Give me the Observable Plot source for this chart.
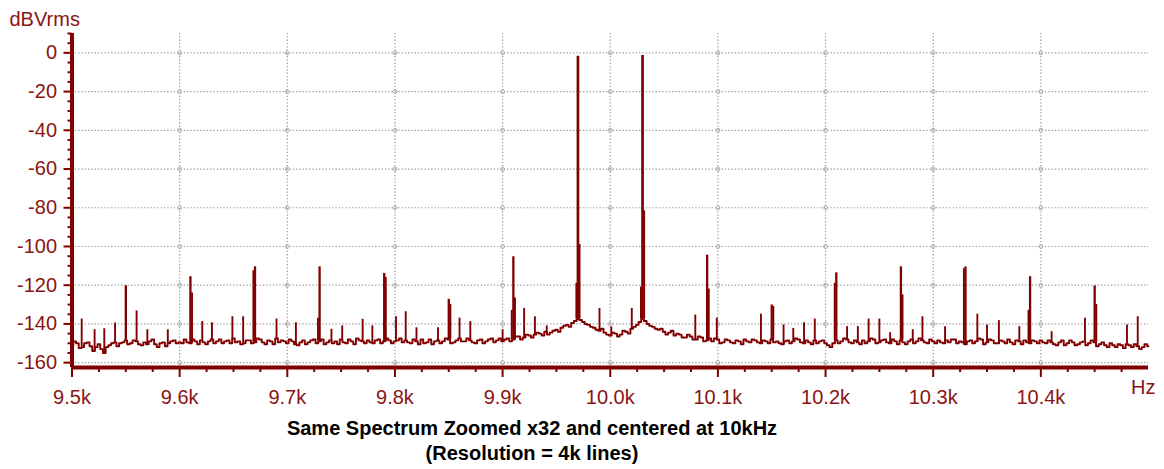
<!DOCTYPE html>
<html><head><meta charset="utf-8">
<script src="https://cdn.jsdelivr.net/npm/d3@7"></script>
<script src="https://cdn.jsdelivr.net/npm/@observablehq/plot@0.6"></script>
<style>
body{margin:0;background:#fff;}
#chart svg{display:block;max-width:none;}
#caption{width:1064px;text-align:center;font-family:"Liberation Sans",Arial,sans-serif;font-weight:bold;font-size:20px;line-height:25px;color:#000;margin-top:3.5px;}
</style></head><body>
<div id="chart"></div>
<div id="caption"><div>Same Spectrum Zoomed x32 and centered at 10kHz</div><div>(Resolution = 4k lines)</div></div>
<script>
// noise floor, one value every 5 Hz from 9500 Hz to 10500 Hz
const floorStartHz = 9500, floorStepHz = 5;
const floorDb = [
 -151,-150,-152,-149.5,-154,-150.5,-155,-151,-149.5,-150,
 -148.5,-150,-149,-151,-150.5,-148,-152,-149.5,-150,-148.5,
 -149.5,-148,-150,-149,-148.5,-150.5,-148,-149,-150,-148.5,
 -147.5,-149,-150,-148.5,-149.5,-148,-150.5,-149,-147.5,-148.5,
 -150,-149,-151,-148.5,-149.5,-148,-149,-150.5,-148.5,-149,
 -148,-150,-149,-147.5,-149,-148.5,-150,-148,-149,-148.5,
 -149,-147.5,-148.5,-150,-149,-148,-149.5,-150.5,-148.5,-149,
 -148,-149.5,-147.5,-149,-148.5,-150,-148,-149,-147.5,-148.5,
 -149,-147.5,-148,-146.5,-147,-146,-145.5,-145,-144,-144.5,
 -143,-142,-140.5,-139.5,-137.5,-139,-140.5,-142,-143.5,-144.5,
 -146,-145,-145.5,-144,-142.5,-140.5,-137.5,-140,-141.5,-143,
 -144,-144.5,-146,-145.5,-147,-146.5,-148,-147,-148.5,-149,
 -148,-149.5,-148.5,-150,-149,-148,-149.5,-148.5,-150,-149,
 -148,-149,-150.5,-148.5,-149,-148,-150,-149.5,-148.5,-149,
 -150,-152,-148.5,-149,-148,-150,-149.5,-148.5,-149,-148,
 -149.5,-148,-150,-149,-148.5,-150.5,-148,-149,-148.5,-150,
 -149,-148.5,-150,-149.5,-148,-149,-150.5,-148.5,-149,-148,
 -149.5,-148.5,-150,-149,-148,-150.5,-149,-148.5,-150,-149,
 -148.5,-150,-149.5,-151,-148.5,-150,-149.5,-150.5,-149,-150,
 -149.5,-150.5,-151,-150,-152,-151,-150.5,-152,-151.5,-152,-151.5
];
// noise floor at the bins half-way between (9502.5 Hz, 9507.5 Hz, ...)
const floorMidDb = [
 -149,-152.5,-150,-151.5,-152,-153,-152,-150,-151.5,-149.5,
 -150.5,-148.5,-150.5,-149.5,-149,-150.5,-150,-151.5,-149,-150,
 -150,-149.5,-148,-150.5,-149.5,-149,-150,-148,-149,-150,
 -149.5,-150.5,-148.5,-150,-147.5,-149.5,-148.5,-150.5,-149.5,-149,
 -148,-150.5,-149.5,-150.5,-148.5,-150,-148,-149.5,-150,-150.5,
 -149.5,-148,-150.5,-148.5,-150,-149.5,-148.5,-150,-147.5,-150,
 -148.5,-149.5,-149.5,-148,-150.5,-150,-148,-149,-150,-147.5,
 -150,-148.5,-149,-147.5,-149.5,-148.5,-150,-148,-149.5,-147.5,
 -148,-149,-146.5,-148,-145.5,-147,-144.5,-146,-145.5,-143.5,
 -144,-141,-141.5,-138.5,-138,-140,-141.5,-143,-142.5,-145.5,
 -144.5,-146.5,-143.5,-145,-141.5,-139,-138.5,-141,-142.5,-142.5,
 -145.5,-143.5,-145,-147,-145.5,-148,-146.5,-149,-147.5,-147.5,
 -150,-148,-149.5,-148.5,-150.5,-149,-148,-149.5,-148.5,-150,
 -149.5,-150,-149,-150,-147.5,-149.5,-148.5,-150.5,-150,-148.5,
 -151,-150,-150,-147.5,-149.5,-148.5,-150.5,-150,-147.5,-150,
 -148.5,-149.5,-148,-150.5,-149.5,-149,-150,-147.5,-149.5,-148,
 -150,-149.5,-148.5,-148,-150,-149.5,-149,-150,-147.5,-150.5,
 -148,-150,-148.5,-150,-149.5,-148.5,-150.5,-149.5,-148.5,-150,
 -149.5,-148.5,-150.5,-149.5,-151,-148.5,-151,-149.5,-151,-148.5,
 -151.5,-149.5,-152,-151,-150.5,-152.5,-151,-150.5,-153,-150.5
];
// the two test tones
const toneHz = [9970, 10030];
const toneDb = [-1.8, -1.3];
// intermodulation products
const imdHz = [9550, 9610, 9670, 9730, 9790, 9850, 9910, 10090, 10150, 10210, 10270, 10330, 10390, 10450];
const imdDb = [-120.3, -115.6, -110.5, -110.5, -113.9, -127.3, -105.3, -104.5, -130.2, -113.6, -110.5, -110.5, -115.6, -120.4];
// neighbouring bins of the larger lines
const shoulderHz = [9968.5, 9971.5, 10028.5, 10031.5, 9611.5, 9668.5, 9728.5, 9791.5, 9851.5, 9908.5, 9911.5, 10091.5, 10151.5, 10208.5, 10271.5, 10328.5, 10388.5, 10451.5];
const shoulderDb = [-119, -99, -121, -81.6, -124, -112.5, -137, -116, -130, -133, -126.6, -122, -131, -119, -125, -111.5, -133, -130];
// small spurs
const minorHz = [9509,9521,9530,9540,9560,9570,9589,9621,9630,9649,9659,9690,9708,9741,9751,9770,9779,9801,9810,9820,9840,9860,9870,9900,9920,9930,9941,9990,10001,10020,10079,10099,10140,10161,10170,10180,10190,10220,10230,10240,10250,10260,10281,10290,10311,10341,10350,10361,10380,10410,10441,10480,10490];
const minorDb = [-137.5,-143,-142.5,-139.5,-133.3,-143,-143,-138.8,-139.4,-136.3,-136.3,-137.5,-139.4,-142.8,-141,-137.6,-141,-136.3,-133.7,-142,-142,-137,-138.8,-143,-132,-136.3,-141,-132,-141.6,-132,-135.4,-137,-135,-140.5,-142.3,-139.4,-137.5,-141.4,-141.4,-137.5,-137.5,-144.5,-143,-136.3,-141.4,-135,-140.5,-138.3,-141.4,-144,-137,-140.5,-136.3];

// axes
const xMajorTicks = [9500, 9600, 9700, 9800, 9900, 10000, 10100, 10200, 10300, 10400];
const xTickLabels = ["9.5k", "9.6k", "9.7k", "9.8k", "9.9k", "10.0k", "10.1k", "10.2k", "10.3k", "10.4k"];
const yMajorTicks = [0, -20, -40, -60, -80, -100, -120, -140, -160];

const maroon = "#800000";
const textColor = "#8a1414";
const font = "'Liberation Sans', Arial, sans-serif";

const floorTable = [];
floorDb.forEach((db, i) => {
  floorTable.push({f: floorStartHz + i * floorStepHz, db});
  if (i < floorMidDb.length) floorTable.push({f: floorStartHz + (i + 0.5) * floorStepHz, db: floorMidDb[i]});
});
const baseAt = f => floorDb[Math.max(0, Math.min(floorDb.length - 1, Math.round((f - floorStartHz) / floorStepHz)))];
const mk = (hz, dbs) => hz.map((f, i) => ({f, db: dbs[i], base: baseAt(f)}));
const minorTable = mk(minorHz, minorDb);
const shoulderTable = mk(shoulderHz, shoulderDb);
const imdTable = mk(imdHz, imdDb);
const toneTable = mk(toneHz, toneDb);

const xMinorTicks = d3.range(9525, 10500, 25).filter(d => !xMajorTicks.includes(d));
const yMinorTicks = d3.range(-155, 11, 5).filter(d => !yMajorTicks.includes(d));
const gridX = xMajorTicks.slice(1);
const crossings = gridX.flatMap(x => yMajorTicks.map(y => ({x, y})));

const chart = Plot.plot({
  width: 1164, height: 412,
  marginLeft: 71.5, marginRight: 16, marginTop: 33, marginBottom: 45,
  style: {fontFamily: font, fontSize: "20px", background: "#fff"},
  x: {domain: [9500, 10500]},
  y: {domain: [-162.5, 10]},
  marks: [
    Plot.ruleY(yMajorTicks, {stroke: "#9a9a9a", strokeWidth: 1.2, strokeDasharray: "1.3,2"}),
    Plot.ruleX(gridX, {stroke: "#9a9a9a", strokeWidth: 1.2, strokeDasharray: "1.3,2"}),
    Plot.dot(crossings, {x: "x", y: "y", r: 2, stroke: "#b0b0b0", strokeWidth: 1, fill: "none"}),
    Plot.line(floorTable, {x: "f", y: "db", stroke: maroon, strokeWidth: 1.9, curve: "step"}),
    Plot.ruleX(minorTable, {x: "f", y1: "base", y2: "db", stroke: maroon, strokeWidth: 1.9}),
    Plot.ruleX(shoulderTable, {x: "f", y1: "base", y2: "db", stroke: maroon, strokeWidth: 1.9}),
    Plot.ruleX(imdTable, {x: "f", y1: "base", y2: "db", stroke: maroon, strokeWidth: 2.3}),
    Plot.ruleX(toneTable, {x: "f", y1: "base", y2: "db", stroke: maroon, strokeWidth: 2.7}),
    Plot.ruleY([-162.5], {stroke: maroon, strokeWidth: 4}),
    Plot.ruleX([9500], {stroke: maroon, strokeWidth: 4}),
    Plot.axisX(xMajorTicks, {anchor: "bottom", tickSize: 10, tickPadding: 12, strokeWidth: 2, stroke: maroon, fill: textColor, fontSize: 20, label: null,
      tickFormat: d => xTickLabels[xMajorTicks.indexOf(d)]}),
    Plot.axisX(xMinorTicks, {anchor: "bottom", tickSize: 5, strokeWidth: 2, stroke: maroon, label: null, tickFormat: () => ""}),
    Plot.axisY(yMajorTicks, {anchor: "left", tickSize: 8, tickPadding: 7, strokeWidth: 2, stroke: maroon, fill: textColor, fontSize: 20, label: null,
      tickFormat: d => String(d).replace("\u2212", "-")}),
    Plot.axisY(yMinorTicks, {anchor: "left", tickSize: 4, strokeWidth: 2, stroke: maroon, label: null, tickFormat: () => ""}),
    Plot.text(["dBVrms"], {frameAnchor: "top-left", text: d => d, textAnchor: "start", lineAnchor: "bottom", dx: -62.5, dy: -8, fill: textColor, fontSize: 20}),
    Plot.text(["Hz"], {frameAnchor: "bottom-right", text: d => d, textAnchor: "start", lineAnchor: "bottom", dx: -17.5, dy: 26, fill: textColor, fontSize: 20})
  ]
});
document.getElementById("chart").appendChild(chart);
</script>
</body></html>
